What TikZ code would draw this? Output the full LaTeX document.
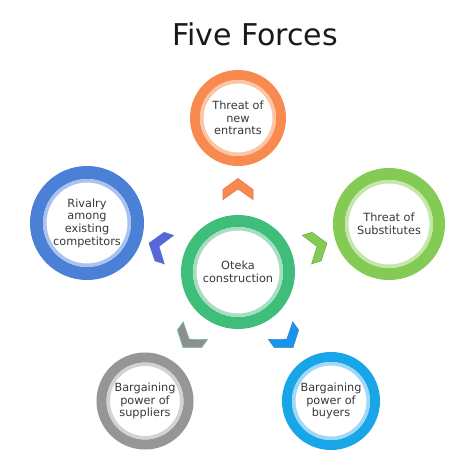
\documentclass[tikz,border=0pt]{standalone}
\usepackage{fontspec}
\setmainfont{DejaVu Sans}
\definecolor{txt}{HTML}{383838}
\definecolor{cOr}{HTML}{F98A4F}
\definecolor{cOrP}{HTML}{FBC6A6}
\definecolor{cGr}{HTML}{3EBE7A}
\definecolor{cGrP}{HTML}{A6DFBF}
\definecolor{cBl}{HTML}{4A80D6}
\definecolor{cBlP}{HTML}{A9C3EE}
\definecolor{cLg}{HTML}{84CB55}
\definecolor{cLgP}{HTML}{C6E7AC}
\definecolor{cGy}{HTML}{969696}
\definecolor{cGyP}{HTML}{D2D2D2}
\definecolor{cSk}{HTML}{18A6E8}
\definecolor{cSkP}{HTML}{A0D9F5}
\definecolor{cPu}{HTML}{5A66D8}
\begin{document}
\begin{tikzpicture}[x=1pt,y=-1pt,
  ring/.style={circle, inner sep=0pt, align=center, fill=white, text=txt,
    font=\fontsize{11.3}{12.7}\selectfont},
  chev/.pic={\path[pic actions] (10.5,0) -- (-0.5,15) -- (-10.5,15) -- (0,0) -- (-10.5,-15) -- (-0.5,-15) -- cycle;},
  chevstyle/.style={line width=0.6pt, line join=miter}
]
\useasboundingbox[fill=white] (0,0) rectangle (474,468);

\node[font=\fontsize{30}{36}\selectfont, text=black!90] (title) at (255,34.5) {Five Forces};

% circles
\node[ring, draw=cOr, line width=10pt, minimum size=86pt] (top) at (238,118) {Threat of\\new\\entrants};
\draw[cOrP, line width=3.5pt] (top.center) circle[radius=36.25pt];

\node[ring, draw=cGr, line width=12pt, minimum size=102pt] (ctr) at (238,272) {Oteka\\construction};
\draw[cGrP, line width=3.5pt] (ctr.center) circle[radius=43.25pt];

\node[ring, draw=cBl, line width=13pt, minimum size=101pt] (lft) at (87,223) {Rivalry\\among\\existing\\competitors};
\draw[cBlP, line width=3.5pt] (lft.center) circle[radius=42.25pt];

\node[ring, draw=cLg, line width=12pt, minimum size=100pt] (rgt) at (389,224) {Threat of\\Substitutes};
\draw[cLgP, line width=3.5pt] (rgt.center) circle[radius=42.25pt];

\node[ring, draw=cGy, line width=10pt, minimum size=87pt] (bl) at (145,401) {Bargaining\\power of\\suppliers};
\draw[cGyP, line width=3.5pt] (bl.center) circle[radius=36.75pt];

\node[ring, draw=cSk, line width=10pt, minimum size=88pt] (br) at (331,401) {Bargaining\\power of\\buyers};
\draw[cSkP, line width=3.5pt] (br.center) circle[radius=37.25pt];

% chevrons
\pic[chevstyle, fill=cOr, draw=cOr!90!black, rotate=90] (chT) at (238,189) {chev};
\pic[chevstyle, fill=cPu, draw=cBl, rotate=162] (chL) at (159,246.4) {chev};
\pic[chevstyle, fill=cLg, draw=cLg!85!black, rotate=18] (chR) at (317,246.4) {chev};
\pic[chevstyle, fill=cGy!95!black, draw=cGr!80, rotate=234] (chBL) at (189.2,339.2) {chev};
\pic[chevstyle, fill=cSk!90!blue, draw=cBl, rotate=306] (chBR) at (286.8,339.2) {chev};
\end{tikzpicture}
\end{document}
